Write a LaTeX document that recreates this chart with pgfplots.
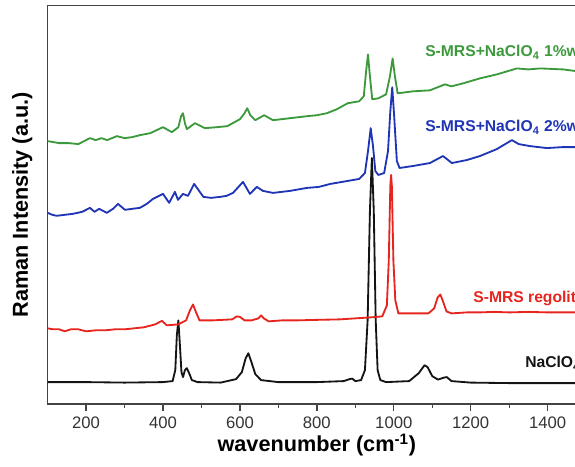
\documentclass[border=0pt]{standalone}
\usepackage{fontspec}
\setmainfont{Liberation Sans}
\usepackage{pgfplots}
\pgfplotsset{compat=1.18}
\definecolor{spgreen}{HTML}{3C9A3C}
\definecolor{spblue}{HTML}{1F35B5}
\definecolor{spred}{HTML}{E5251E}
\definecolor{spblack}{HTML}{141414}
\definecolor{axisgray}{HTML}{444444}

\begin{document}
\begin{tikzpicture}
\begin{axis}[
    name=ax,
    at={(0pt,0pt)}, anchor=south west,
    scale only axis,
    width=323.1pt, height=239pt,
    xmin=100, xmax=1500, ymin=0, ymax=400,
    xtick={200,400,...,1400},
    minor x tick num=1,
    xtick pos=bottom,
    tick align=outside,
    major tick length=4.2pt, minor tick length=2.4pt,
    ytick=\empty,
    axis line style={axisgray, line width=0.9pt},
    every tick/.style={axisgray, line width=0.8pt},
    /pgf/number format/assume math mode=true,
    /pgf/number format/1000 sep={},
    xticklabel style={font=\fontsize{10}{12}\selectfont, text=black!80},
    xlabel={\textbf{wavenumber (cm\textsuperscript{-1})}},
    ylabel={\textbf{Raman Intensity (a.u.)}},
    every axis x label/.style={at={(axis description cs:0.5,0)}, anchor=center, yshift=-24.6pt, font=\fontsize{13}{15}\selectfont},
    every axis y label/.style={at={([xshift=-15.2pt]axis description cs:0,0.5)}, anchor=center, rotate=90, font=\fontsize{13}{15}\selectfont},
    every axis plot/.append style={line width=1.1pt, line join=round},
    clip=true,
]
% NaClO4
\addplot[spblack] coordinates {
(100,22) (200,22) (300,21.5) (400,22) (425,23) (432,34) (436,69) (440,84) (444,59) (448,32)
(452,27) (457,34) (462,36) (468,31) (475,24) (490,22) (550,21.5) (590,25) (605,32) (615,46)
(622,51) (630,42) (640,30) (655,24) (700,22) (800,22) (870,23) (885,25) (892,25.5) (900,23)
(915,24) (925,34) (932,84) (938,194) (943,247) (948,194) (953,84) (958,34) (965,24) (980,22)
(1040,23) (1065,31) (1080,39) (1088,37) (1100,28) (1115,24.5) (1130,26.5) (1138,27) (1150,23)
(1200,21.5) (1300,21) (1500,21)
};
% S-MRS regolith
\addplot[spred] coordinates {
(100,76) (115,75) (130,75) (145,73) (160,75) (180,75) (200,73) (225,74) (250,74) (275,75) (300,75)
(325,76) (350,77) (380,80) (397,83.5) (410,79) (440,80) (460,84) (470,94) (478,100) (486,92)
(495,84) (530,84) (555,84.5) (580,85) (592,88) (600,87.5) (612,84) (630,84) (648,86) (655,89)
(662,86) (675,83) (710,84) (750,84) (800,84.5) (860,85) (900,86) (940,87) (970,88) (982,99)
(987,144) (991,219) (993,230) (995,219) (999,144) (1004,104) (1012,91) (1050,91) (1090,91)
(1105,96) (1114,107) (1121,110) (1128,103) (1137,93) (1150,91) (1190,92) (1224,92) (1260,92.5)
(1300,92) (1350,92.5) (1400,92) (1500,92)
};
% S-MRS+NaClO4 2%wt
\addplot[spblue] coordinates {
(100,192) (112,190) (124,189) (145,190) (166,191) (190,193) (210,197) (222,193) (234,196) (254,192)
(270,196) (283,201) (301,195) (320,196) (340,197) (358,201) (374,206) (400,211) (416,202) (431,213)
(439,205) (452,211) (465,209) (481,221) (505,208) (525,207) (548,208) (565,209) (582,212) (608,223)
(626,211) (644,218) (660,214) (686,212) (730,214) (774,217) (805,218) (835,221) (880,224)
(910,226) (925,232) (933,254) (940,277) (946,259) (952,234) (960,230) (975,232) (985,254) (991,294)
(996,318) (1001,289) (1008,244) (1015,237) (1050,239) (1094,242) (1128,249) (1151,242) (1190,245)
(1224,249) (1268,256) (1307,265) (1325,261) (1354,259) (1398,257) (1440,258) (1470,258) (1500,258)
};
% S-MRS+NaClO4 1%wt
\addplot[spgreen] coordinates {
(100,264) (115,263) (130,262) (155,262) (180,261) (210,267) (225,265) (240,267) (255,265) (280,269)
(300,267) (320,268) (340,270) (367,272) (400,278) (423,273) (440,278) (447,289) (452,292) (457,282)
(462,276) (483,282) (509,277) (540,278) (567,279) (600,286) (612,292) (619,297) (627,290) (640,285)
(663,290) (686,285) (730,287) (774,289) (800,290) (826,292) (852,296) (880,302) (910,304) (922,309)
(928,334) (933,351) (938,329) (944,306) (960,307) (980,311) (990,329) (997,347) (1003,329)
(1010,312) (1050,314) (1094,315) (1133,321) (1150,319) (1180,322) (1224,327) (1268,331)
(1320,337) (1350,336) (1380,337) (1440,336) (1500,333)
};
\node[anchor=west, text=spgreen, font=\bfseries\fontsize{9.4}{11}\selectfont, inner sep=0pt] at (axis cs:1081,353) {S-MRS+NaClO\textsubscript{4} 1\%wt};
\node[anchor=west, text=spblue, font=\bfseries\fontsize{9.4}{11}\selectfont, inner sep=0pt] at (axis cs:1081,278) {S-MRS+NaClO\textsubscript{4} 2\%wt};
\node[anchor=west, text=spred, font=\bfseries\fontsize{9.4}{11}\selectfont, inner sep=0pt] at (axis cs:1206,106) {S-MRS regolith};
\node[anchor=west, text=spblack, font=\bfseries\fontsize{9.4}{11}\selectfont, inner sep=0pt] at (axis cs:1341,41) {NaClO\textsubscript{4}};
\end{axis}
% top frame line
\draw[axisgray, line width=0.9pt] (ax.north west) -- (ax.north east);
\pgfresetboundingbox
\useasboundingbox (-28.56pt,-37.2pt) rectangle (316.44pt,242.4pt);
\end{tikzpicture}
\end{document}
